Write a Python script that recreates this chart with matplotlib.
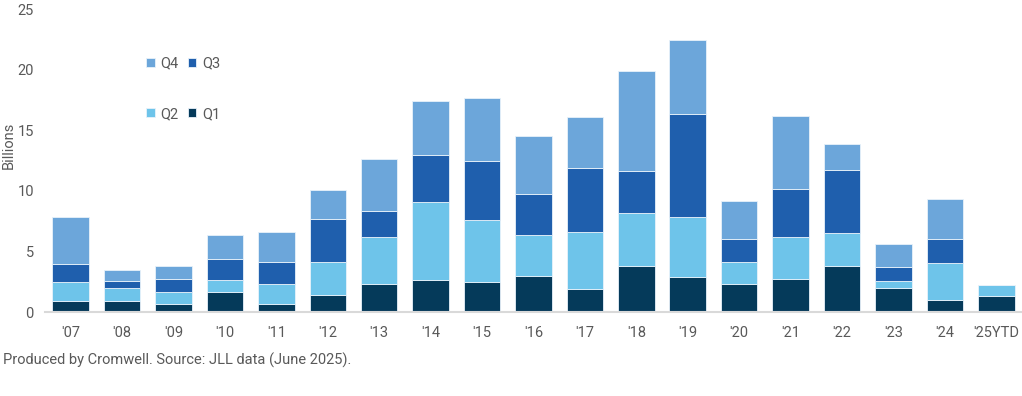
import numpy as np
import matplotlib.pyplot as plt

# Jahre / Kategorien
years = ["'07", "'08", "'09", "'10", "'11", "'12", "'13", "'14", "'15", "'16",
         "'17", "'18", "'19", "'20", "'21", "'22", "'23", "'24", "'25YTD"]

# Quartalswerte (Milliarden)
q1 = [0.90, 0.90, 0.68, 1.69, 0.68, 1.44, 2.34, 2.67, 2.45, 3.00,
      1.91, 3.79, 2.92, 2.34, 2.70, 3.79, 2.02, 1.00, 1.36]
q2 = [1.55, 1.10, 0.98, 0.98, 1.66, 2.67, 3.82, 6.38, 5.15, 3.35,
      4.68, 4.38, 4.90, 1.77, 3.46, 2.70, 0.51, 3.03, 0.87]
q3 = [1.55, 0.56, 1.04, 1.69, 1.77, 3.60, 2.21, 3.92, 4.90, 3.38,
      5.26, 3.43, 8.50, 1.91, 4.00, 5.23, 1.15, 1.97, 0.00]
q4 = [3.85, 0.93, 1.11, 2.02, 2.51, 2.37, 4.27, 4.47, 5.16, 4.79,
      4.25, 8.30, 6.16, 3.16, 6.04, 2.15, 1.91, 3.29, 0.00]

c_q1 = '#053A5A'
c_q2 = '#6EC4EA'
c_q3 = '#1F5FAD'
c_q4 = '#6CA6DA'
grau = '#595959'

plt.rcParams['font.family'] = ['Roboto', 'DejaVu Sans']

fig = plt.figure(figsize=(10.22, 3.96), dpi=100)
ax = fig.add_axes([0.044, 0.212, 0.956, 0.765])

x = np.arange(len(years))
w = 0.71
b = np.zeros(len(years))
bars = {}
for name, vals, col in [('Q1', q1, c_q1), ('Q2', q2, c_q2), ('Q3', q3, c_q3), ('Q4', q4, c_q4)]:
    vals = np.array(vals)
    bars[name] = ax.bar(x, vals, w, bottom=b, color=col, edgecolor='#E8F2FA',
                        linewidth=0.6, label=name)
    b = b + vals

ax.set_xlim(-0.5, len(years) - 0.5)
ax.set_ylim(0, 25)
ax.set_yticks([0, 5, 10, 15, 20, 25])
ax.set_xticks(x)
ax.set_xticklabels(years)
ax.tick_params(axis='both', length=0, labelsize=10.5, colors=grau)
ax.tick_params(axis='x', pad=10)
ax.tick_params(axis='y', pad=8)

for s in ['top', 'right', 'left']:
    ax.spines[s].set_visible(False)
ax.spines['bottom'].set_color('#D9D9D9')
ax.spines['bottom'].set_linewidth(1.5)

# y-Achsentitel etwas oberhalb der Mitte, wie im Original
fig.text(0.009, 0.634, 'Billions', fontsize=10.5, color=grau,
         rotation=90, ha='center', va='center')

# Legende: Q4 Q3 / Q2 Q1
handles = [bars['Q4'], bars['Q2'], bars['Q3'], bars['Q1']]
labels = ['Q4', 'Q2', 'Q3', 'Q1']
leg = ax.legend(handles, labels, ncol=2, frameon=False, fontsize=10.5,
                labelcolor=grau, handlelength=0.6, handleheight=0.6,
                handletextpad=0.4, columnspacing=0.6, labelspacing=2.5,
                loc='upper left', bbox_to_anchor=(0.09, 0.887))

fig.text(0.003, 0.09, 'Produced by Cromwell. Source: JLL data (June 2025).',
         fontsize=10.5, color=grau, va='center', ha='left')

fig.savefig('out.png', dpi=100)
